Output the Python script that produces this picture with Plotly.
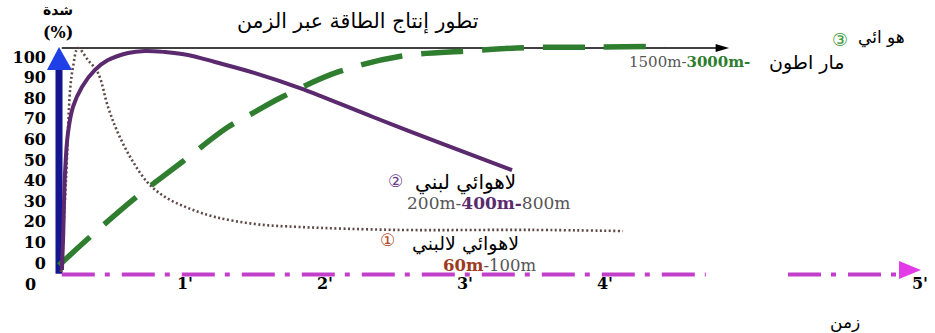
import plotly.graph_objects as go

# ---------------------------------------------------------------
# Energy systems over time: intensity (%) versus time (minutes)
# ---------------------------------------------------------------

# (1) anaerobic alactic system
t_alactic = [0.114, 0.15, 0.179, 0.2, 0.236, 0.307, 0.379, 0.45, 0.521, 0.621,
             0.736, 0.857, 1.021, 1.214, 1.5, 1.82, 2.514, 3.464, 4.129]
i_alactic = [0, 41, 81, 91.5, 100, 94.6, 88.8, 73.7, 62.1, 50,
             39.7, 33.5, 28.6, 24.6, 21.4, 20.1, 18.8, 18.8, 18.3]

# (2) anaerobic lactic system
t_lactic = [0.121, 0.129, 0.143, 0.164, 0.2, 0.264, 0.357, 0.45, 0.593, 0.714,
            0.857, 1.021, 1.214, 1.5, 1.821, 2.343, 2.821, 3.336]
i_lactic = [0.9, 14.3, 44.2, 62.1, 73.7, 82.6, 90.2, 94.6, 97.8, 98.7,
            98.2, 96.9, 93.75, 88.8, 82.1, 69.2, 57.6, 45.5]

# (3) aerobic system
t_aerobic = [0.1, 0.321, 0.643, 0.979, 1.307, 1.5, 1.693, 2.093, 2.55, 3.014,
             3.464, 3.943, 4.429]
i_aerobic = [3, 15.6, 33.0, 49.1, 64.7, 71.5, 78.1, 89.3, 96.4, 98.7,
             100.2, 100.4, 100.8]

# axis labels
y_ticks = [0, 10, 20, 30, 40, 50, 60, 70, 80, 90, 100]
x_tick_vals = [1, 2, 3, 4, 6.25]
x_tick_text = ["1'", "2'", "3'", "4'", "5'"]

# ---------------------------------------------------------------
W, H = 935, 333
ML, MR = 46, 5
PLOT_W = W - ML - MR

SERIF = "DejaVu Serif"
ARABIC = "DejaVu Sans"


def px(xp):
    """horizontal pixel -> paper fraction"""
    return (xp - ML) / PLOT_W


def py(yp):
    """vertical pixel -> paper fraction"""
    return (H - yp) / H


fig = go.Figure()

# the labelled intensity scale lives on "y"; the curves on the overlaid "y2"
fig.add_trace(go.Scatter(x=[None], y=[None], yaxis="y", mode="lines",
                         hoverinfo="skip", showlegend=False))

fig.add_trace(go.Scatter(
    x=t_aerobic, y=i_aerobic, yaxis="y2", mode="lines", line_shape="spline",
    line=dict(color="#2f7d2f", width=5.5, dash="42px,19px"),
    hoverinfo="skip", showlegend=False))

fig.add_trace(go.Scatter(
    x=t_alactic, y=i_alactic, yaxis="y2", mode="lines", line_shape="spline",
    line=dict(color="#5e4848", width=2.6, dash="2px,2.5px"),
    hoverinfo="skip", showlegend=False))

fig.add_trace(go.Scatter(
    x=t_lactic, y=i_lactic, yaxis="y2", mode="lines", line_shape="spline",
    line=dict(color="#5b2a6e", width=4),
    hoverinfo="skip", showlegend=False))

# ---------------- axes drawn as arrows ----------------
shapes = []
ax_ref = dict(xref="x", yref="y2")
# intensity arrow (vertical, blue)
shapes.append(dict(type="line", x0=0.1, x1=0.1, y0=-0.8, y1=91,
                   line=dict(color="#15158f", width=7), layer="below", **ax_ref))
shapes.append(dict(type="path", path="M 0.014 90.2 L 0.193 90.2 L 0.1 100.5 Z",
                   fillcolor="#1e40e6", line=dict(width=0), layer="below", **ax_ref))
# 100 % reference arrow (black)
shapes.append(dict(type="line", x0=0.12, x1=4.80, y0=100, y1=100,
                   line=dict(color="#000000", width=1.6), layer="below", **ax_ref))
shapes.append(dict(type="path", path="M 4.79 101.8 L 4.886 100 L 4.79 98.2 Z",
                   fillcolor="#000000", line=dict(width=0), layer="below", **ax_ref))
# time axis (magenta dash-dot, with a break before 5')
for a, b in [(0.12, 4.72), (5.307, 6.10)]:
    shapes.append(dict(type="line", x0=a, x1=b, y0=-1.1, y1=-1.1,
                       line=dict(color="#c23fc9", width=4, dash="33px,10px,5px,12px"),
                       layer="below", **ax_ref))
shapes.append(dict(type="path", path="M 6.10 4.9 L 6.257 0.9 L 6.10 -3.1 Z",
                   fillcolor="#e33ce6", line=dict(width=0), layer="below", **ax_ref))

# ---------------- text ----------------
ann = []


def note(text, x, y, size, color="#000000", family=ARABIC, xanchor="center",
         weight="normal"):
    ann.append(dict(text=text, x=px(x), y=py(y), xref="paper", yref="paper",
                    xanchor=xanchor, yanchor="middle", showarrow=False,
                    font=dict(size=size, color=color, family=family, weight=weight)))


note("تطور إنتاج الطاقة عبر الزمن", 358, 22, 20.5)
note("شدة", 58, 10, 14, weight="bold")
note("(%)", 58, 33, 16, family=SERIF, weight="bold")
note("0", 30, 284, 16, family=SERIF, weight="bold")

note("هو ائي", 881, 38, 17)
note("③", 840, 39, 18, color="#3a9a3a")
note("<span style='color:#555555'>1500m-</span>"
     "<b style='color:#2e7d2e'>3000m-</b>", 752, 62, 15, family=SERIF,
     xanchor="right")
note("مار اطون", 806, 63, 19)

note("②", 395, 181, 17, color="#6a3d8a")
note("لاهوائي لبني", 465, 183, 20)
note("<span style='color:#555555'>200m-</span>"
     "<b style='color:#5b2a6e'>400m-</b>"
     "<span style='color:#555555'>800m</span>", 488, 203, 17, family=SERIF)

note("①", 387, 240, 17, color="#b44a2e")
note("لاهوائي لالبني", 465, 243, 19)
note("<b style='color:#9c3a22'>60m</b>"
     "<span style='color:#555555'>-100m</span>", 489, 265, 16.5, family=SERIF)

note("زمن", 845, 322, 17)

fig.update_layout(
    width=W, height=H,
    margin=dict(l=ML, r=MR, t=0, b=0),
    paper_bgcolor="white", plot_bgcolor="white",
    template="none",
    shapes=shapes, annotations=ann,
    xaxis=dict(range=[(ML - 45) / 140, (W - MR - 45) / 140],
               anchor="free", position=py(272),
               tickvals=x_tick_vals, ticktext=x_tick_text, ticks="",
               tickfont=dict(family=SERIF, size=16, color="#000000", weight="bold"),
               showgrid=False, zeroline=False, showline=False, automargin=False,
               fixedrange=True),
    yaxis=dict(range=[(263 - H) / 2.06, 263 / 2.06], anchor="free", position=0,
               tickvals=y_ticks, ticks="",
               tickfont=dict(family=SERIF, size=16, color="#000000", weight="bold"),
               showgrid=False, zeroline=False, showline=False, automargin=False,
               fixedrange=True),
    yaxis2=dict(range=[(272 - H) / 2.24, 272 / 2.24], overlaying="y",
                visible=False, fixedrange=True),
)

fig.write_html("out.html")
